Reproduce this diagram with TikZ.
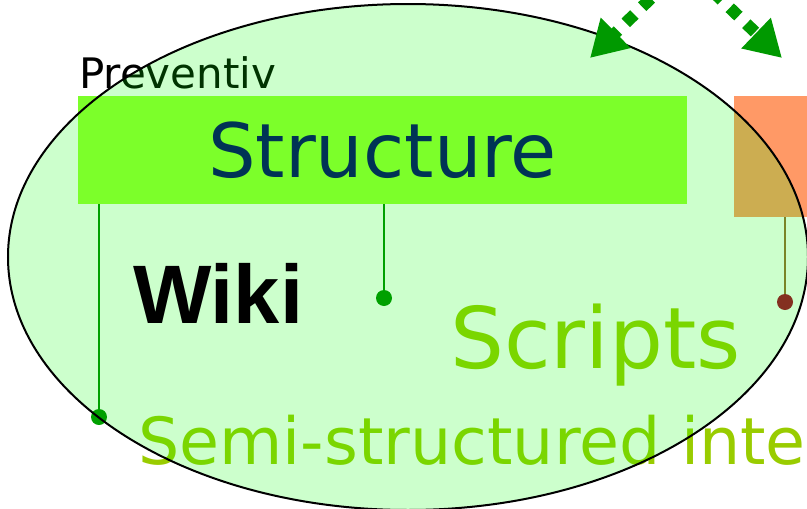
\documentclass[tikz,border=0pt]{standalone}
\usepackage{fontspec}
\setmainfont{DejaVu Sans}
\newfontfamily\wikifont{Liberation Sans}
\usetikzlibrary{arrows.meta}

\definecolor{boxgreen}{HTML}{7CFF2A}
\definecolor{navy}{HTML}{003355}
\definecolor{lime}{HTML}{99CC00}
\definecolor{salmon}{HTML}{FF9966}
\definecolor{rust}{HTML}{843020}
\definecolor{leaf}{HTML}{00A000}
\definecolor{arrowgreen}{HTML}{009900}

\tikzset{
	label/.style={anchor=base west, inner sep=0pt},
	pin/.style={circle, fill=#1, inner sep=0pt, minimum size=16pt},
	stem/.style={draw=#1, line width=2pt},
	hop/.style={arrowgreen, line width=12pt, dash pattern=on 12pt off 11pt,
		-{Triangle[length=36pt,width=40pt]}}
}

\begin{document}
\begin{tikzpicture}[x=1pt, y=-1pt]
		\useasboundingbox (0,0) rectangle (807,509);
		\clip (0,0) rectangle (807,509);

		% things that lie under the ellipse
		\node[label] (preventiv) at (79,88) {\fontsize{42}{50}\selectfont Preventiv};
		\node[label, text=lime] (scripts) at (450,368) {\fontsize{85}{98}\selectfont Scripts};
		\node[label, text=lime] (semi) at (138,464) {\fontsize{65}{78}\selectfont Semi-structured inte};
		\node[fill=salmon, anchor=north west, minimum width=120pt, minimum height=121pt, inner sep=0pt] (tools) at (734,96) {};
		\coordinate (scriptend) at (785,302);
		\draw[stem=brown!80!black] (tools.south -| scriptend) -- (scriptend);

		% the ellipse
		\fill[green, fill opacity=0.2] (408,257) ellipse [x radius=400pt, y radius=253pt];

		% things on top
		\node[fill=boxgreen, text=navy, minimum width=609pt, minimum height=108pt, inner sep=0pt] (structure) at (382.5,150) {\fontsize{75}{90}\selectfont Structure};
		\node[label] (wiki) at (133,323) {\wikifont\bfseries\fontsize{83}{96}\selectfont Wiki};
		\node[pin=rust] (scriptdot) at (scriptend) {};
		\node[pin=leaf] (wikidot) at (384,298) {};
		\node[pin=leaf] (semidot) at (99,417) {};
		\draw[stem=leaf] (structure.south -| wikidot) -- (wikidot);
		\draw[stem=leaf] (structure.south -| semidot) -- (semidot);

		\draw[line width=2pt] (408,257) ellipse [x radius=400pt, y radius=253pt];

		% arrows coming in from above
		\coordinate (fromA) at (700,-50);
		\coordinate (toA) at (590,58);
		\coordinate (fromB) at (680,-40);
		\coordinate (toB) at (782,58);
		\draw[hop] (fromA) -- (toA);
		\draw[hop] (fromB) -- (toB);
	\end{tikzpicture}
\end{document}
